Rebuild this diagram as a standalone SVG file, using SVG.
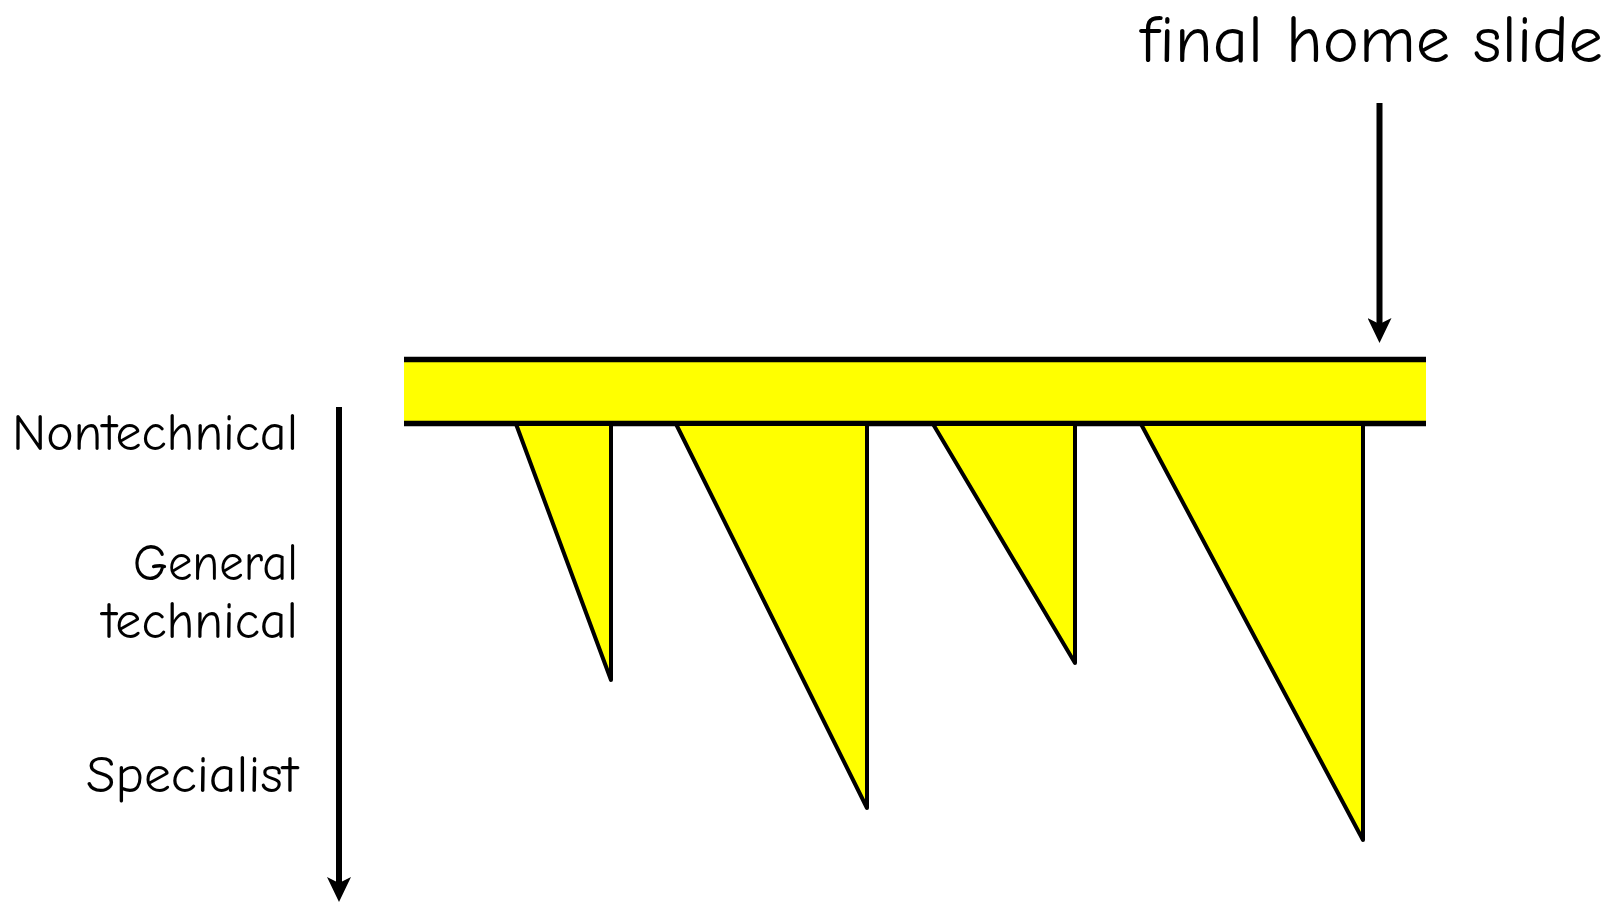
<svg xmlns="http://www.w3.org/2000/svg" width="1613" height="902" viewBox="0 0 1613 902">
<style>
.lbl{font-family:"Comic Sans MS","Comic Neue","Liberation Sans",sans-serif;fill:#000}
.tri{fill:#ffff00;stroke:#000;stroke-width:4;stroke-linejoin:round}
.edge{stroke:#000;stroke-width:6;fill:none}
</style>
<defs>
<marker id="ah" markerUnits="userSpaceOnUse" markerWidth="26" markerHeight="24" refX="6" refY="12" orient="auto" viewBox="0 0 26 24">
<path d="M0,0 L25,12 L0,24 L6,12 Z" fill="#000"/>
</marker>
</defs>
<rect width="1613" height="902" fill="#fff"/>
<g id="bar">
<rect x="404" y="359.5" width="1022" height="64" fill="#ffff00"/>
<line x1="404" y1="359.5" x2="1426" y2="359.5" stroke="#000" stroke-width="5.5"/>
<line x1="404" y1="423.5" x2="1426" y2="423.5" stroke="#000" stroke-width="5.5"/>
</g>
<g id="spike1"><polygon class="tri" points="516,424 611,424 611,680"/></g>
<g id="spike2"><polygon class="tri" points="676,424 867,424 867,808"/></g>
<g id="spike3"><polygon class="tri" points="933,424 1075,424 1075,663"/></g>
<g id="spike4"><polygon class="tri" points="1141,424 1363,424 1363,840"/></g>
<g id="connectors">
<line class="edge" x1="1379.5" y1="103" x2="1379.5" y2="324" marker-end="url(#ah)"/>
<line class="edge" x1="339" y1="407" x2="339" y2="883" stroke-width="7" marker-end="url(#ah)"/>
</g>
<g id="title"><text class="lbl" x="1603" y="62" font-size="66" text-anchor="end" textLength="463" lengthAdjust="spacingAndGlyphs">final home slide</text></g>
<g id="label-nontechnical"><text class="lbl" x="298" y="450" font-size="52" text-anchor="end" textLength="286" lengthAdjust="spacingAndGlyphs">Nontechnical</text></g>
<g id="label-general"><text class="lbl" font-size="52" text-anchor="end"><tspan x="298" y="580" textLength="165" lengthAdjust="spacingAndGlyphs">General</tspan><tspan x="298" y="638" textLength="196" lengthAdjust="spacingAndGlyphs">technical</tspan></text></g>
<g id="label-specialist"><text class="lbl" x="298" y="792" font-size="52" text-anchor="end" textLength="212" lengthAdjust="spacingAndGlyphs">Specialist</text></g>
</svg>
